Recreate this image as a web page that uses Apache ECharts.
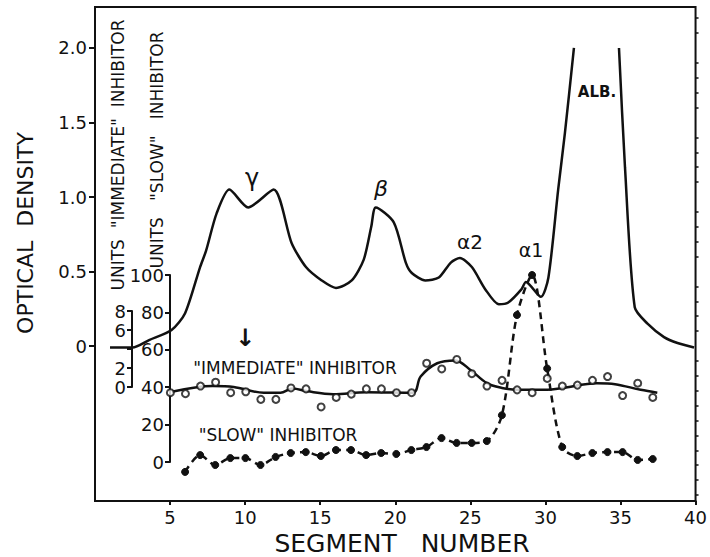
<!DOCTYPE html>
<html>
<head>
<meta charset="utf-8">
<script src="https://cdn.jsdelivr.net/npm/echarts@6/dist/echarts.min.js"></script>
<style>
  html, body { margin: 0; padding: 0; background: #fff; }
  #chart { width: 710px; height: 557px; }
</style>
</head>
<body>
<div id="chart"></div>
<script>
// optical density trace (segment, OD); '-' breaks the albumin peak off the top
const odCurve = [
  [1.0, -0.01], [2.5, -0.01], [3.6, 0.04], [5.1, 0.107], [6.0, 0.22], [7.0, 0.53], [7.4, 0.64],
  [8.1, 0.89], [8.95, 1.05], [10.2, 0.93], [11.9, 1.05], [13.1, 0.69], [14.05, 0.53],
  [15.1, 0.44], [16.05, 0.39], [17.1, 0.44], [17.9, 0.58], [18.4, 0.80], [18.7, 0.93],
  [19.9, 0.83], [20.7, 0.56], [21.1, 0.49], [22.0, 0.44], [22.9, 0.46], [23.7, 0.56],
  [24.3, 0.59], [25.1, 0.53], [26.0, 0.38], [26.9, 0.28], [27.5, 0.29], [28.4, 0.38],
  [28.7, 0.43], [29.7, 0.33], [30.2, 0.46], [30.85, 1.05], [31.3, 1.43], [31.9, 2.0],
  [33.4, '-'],
  [34.9, 2.0], [35.3, 1.2], [35.95, 0.26], [36.8, 0.15], [37.9, 0.06], [38.8, 0.02], [39.9, -0.01]
];

// "slow" inhibitor units (segment, units)
const slowSegments = [6, 7, 8, 9, 10, 11, 12, 13, 14, 15, 16, 17, 18, 19, 20, 21, 22, 23, 24, 25, 26, 27, 28, 29, 30, 31, 32, 33, 34, 35, 36, 37];
const slowUnits = [-5.3, 3.7, -1.6, 2.1, 2.1, -1.6, 2.7, 4.8, 5.3, 3.2, 6.4, 6.4, 3.7, 4.8, 4.3, 6.4, 8.0, 12.8, 10.2, 10.2, 11.2, 25, 78.6, 100, 50, 8.0, 3.2, 4.8, 5.3, 5.3, 1.1, 1.6];

// "immediate" inhibitor units, measured points (segment, units)
const immSegments = [5, 6, 7, 8, 9, 10, 11, 12, 13, 14, 15, 16, 17, 18, 19, 20, 21, 22, 23, 24, 25, 26, 27, 28, 29, 30, 31, 32, 33, 34, 35, 36, 37];
const immUnits = [-0.6, -0.7, 0.1, 0.5, -0.6, -0.5, -1.3, -1.3, -0.1, -0.2, -2.1, -1.1, -0.75, -0.2, -0.2, -0.6, -0.6, 2.5, 1.9, 2.9, 1.4, 0.1, 0.7, -0.3, -0.6, 0.9, 0.1, 0.2, 0.7, 1.1, -0.9, 0.4, -1.1];

// hand-drawn fitted curve through the immediate inhibitor points
const immCurve = [
  [5.1, -0.5], [7.8, 0.1], [9.2, 0.0], [11.2, -0.6], [12.3, -0.6], [13.1, -0.15], [14.1, -0.45],
  [15.8, -0.75], [18.0, -0.55], [21.1, -0.6], [21.6, 1.1], [22.7, 2.5], [23.9, 2.8], [24.9, 1.8],
  [26.0, 0.4], [27.0, -0.1], [28.0, -0.3], [30.0, -0.3], [31.0, -0.1], [33.3, 0.4], [34.5, 0.3],
  [36.2, -0.3], [37.3, -0.6]
];

const xTicks = [5, 10, 15, 20, 25, 30, 35, 40];
const odTicks = [0, 0.5, 1.0, 1.5, 2.0];
const odMinorTicks = [-1.0, -0.9, -0.8, -0.7, -0.6, -0.5, -0.4, -0.3, -0.2, -0.1, 0.1, 0.2, 0.3, 0.4, 0.6, 0.7, 0.8, 0.9, 1.1, 1.2, 1.3, 1.4, 1.6, 1.7, 1.8, 1.9, 2.1, 2.2];

const FONT = 'DejaVu Sans';
const INK = '#111';

const chart = echarts.init(document.getElementById('chart'), null, { renderer: 'svg' });

const zip = (xs, ys) => xs.map((x, i) => [x, ys[i]]);

chart.setOption({
  backgroundColor: '#fff',
  animation: false,
  grid: [
    { left: 95, right: 12, top: 7, bottom: 56, show: true, borderColor: INK, borderWidth: 2, backgroundColor: 'transparent' },
    { left: 170, right: 12, top: 275, bottom: 95 },
    { left: 132, right: 12, top: 311, bottom: 170 }
  ],
  xAxis: [
    {
      gridIndex: 0, type: 'value', min: 0, max: 40,
      axisLine: { onZero: false, lineStyle: { color: INK, width: 2 } },
      axisTick: { customValues: xTicks, length: 4, lineStyle: { color: INK, width: 2 } },
      axisLabel: { customValues: xTicks, color: INK, fontFamily: FONT, fontSize: 18, margin: 7 },
      splitLine: { show: false }
    },
    { gridIndex: 1, type: 'value', min: 5, max: 40, show: false, axisLine: { onZero: false } },
    { gridIndex: 2, type: 'value', min: (132 - 95) / 15.075, max: 40, show: false, axisLine: { onZero: false } }
  ],
  yAxis: [
    {
      gridIndex: 0, type: 'value', min: -1.04, max: 2.275,
      axisLine: { onZero: false, lineStyle: { color: INK, width: 2 } },
      axisTick: { customValues: odTicks, length: 6, lineStyle: { color: INK, width: 2 } },
      axisLabel: {
        customValues: odTicks, color: INK, fontFamily: FONT, fontSize: 18, margin: 8,
        formatter: v => v === 0 ? '0' : v.toFixed(1)
      },
      splitLine: { show: false }
    },
    {
      gridIndex: 0, type: 'value', min: -1.04, max: 2.275,
      axisLine: { show: false, onZero: false },
      axisTick: { customValues: odMinorTicks, length: 3, lineStyle: { color: INK, width: 1.5 } },
      axisLabel: { show: false },
      splitLine: { show: false }
    },
    {
      gridIndex: 1, type: 'value', min: 0, max: 100, interval: 20,
      axisLine: { show: true, onZero: false, lineStyle: { color: INK, width: 2 } },
      axisTick: { show: true, length: 5, lineStyle: { color: INK, width: 2 } },
      axisLabel: { color: INK, fontFamily: FONT, fontSize: 18, margin: 6 },
      splitLine: { show: false }
    },
    {
      gridIndex: 2, type: 'value', min: 0, max: 8, interval: 2,
      axisLine: { show: true, onZero: false, lineStyle: { color: INK, width: 2 } },
      axisTick: { show: true, length: 5, lineStyle: { color: INK, width: 2 } },
      axisLabel: { color: INK, fontFamily: FONT, fontSize: 18, margin: 6, formatter: v => v === 4 ? '' : String(v) },
      splitLine: { show: false }
    }
  ],
  series: [
    {
      name: 'optical density', type: 'line', xAxisIndex: 0, yAxisIndex: 0,
      data: odCurve, smooth: 0.25, showSymbol: false, connectNulls: false,
      lineStyle: { color: INK, width: 2.5 }, clip: false, z: 3
    },
    {
      name: 'slow inhibitor', type: 'line', xAxisIndex: 1, yAxisIndex: 2,
      data: zip(slowSegments, slowUnits), smooth: 0.3, clip: false,
      symbol: 'circle', symbolSize: 7,
      itemStyle: { color: INK, borderColor: INK },
      lineStyle: { color: INK, width: 2.5, type: [7, 5] }, z: 4
    },
    {
      name: 'immediate curve', type: 'line', xAxisIndex: 2, yAxisIndex: 3,
      data: immCurve, smooth: 0.35, showSymbol: false, clip: false,
      lineStyle: { color: INK, width: 2.5 }, z: 3
    },
    {
      name: 'immediate points', type: 'scatter', xAxisIndex: 2, yAxisIndex: 3,
      data: zip(immSegments, immUnits), clip: false,
      symbol: 'circle', symbolSize: 7,
      itemStyle: { color: '#fff', borderColor: INK, borderWidth: 2 }, z: 5
    }
  ],
  graphic: [
    { type: 'text', x: 25, y: 233, rotation: Math.PI / 2,
      style: { text: 'OPTICAL  DENSITY', font: '22px "DejaVu Sans"', fill: INK, align: 'center', verticalAlign: 'middle' } },
    { type: 'text', x: 118, y: 155, rotation: Math.PI / 2,
      style: { text: 'UNITS  "IMMEDIATE"  INHIBITOR', font: '17px "DejaVu Sans"', fill: INK, align: 'center', verticalAlign: 'middle' } },
    { type: 'text', x: 157, y: 150, rotation: Math.PI / 2,
      style: { text: 'UNITS   "SLOW"   INHIBITOR', font: '17px "DejaVu Sans"', fill: INK, align: 'center', verticalAlign: 'middle' } },
    { type: 'text', x: 402, y: 543,
      style: { text: 'SEGMENT   NUMBER', font: '25px "DejaVu Sans"', fill: INK, align: 'center', verticalAlign: 'middle' } },
    { type: 'text', x: 252, y: 178,
      style: { text: 'γ', font: '24px "DejaVu Sans"', fill: INK, align: 'center', verticalAlign: 'middle' } },
    { type: 'text', x: 381, y: 188,
      style: { text: 'β', font: 'italic 22px "DejaVu Sans"', fill: INK, align: 'center', verticalAlign: 'middle' } },
    { type: 'text', x: 470, y: 242,
      style: { text: 'α2', font: '20px "DejaVu Sans"', fill: INK, align: 'center', verticalAlign: 'middle' } },
    { type: 'text', x: 531, y: 250,
      style: { text: 'α1', font: '19px "DejaVu Sans"', fill: INK, align: 'center', verticalAlign: 'middle' } },
    { type: 'text', x: 597, y: 92,
      style: { text: 'ALB.', font: 'bold 15px "DejaVu Sans"', fill: INK, align: 'center', verticalAlign: 'middle' } },
    { type: 'text', x: 245, y: 338,
      style: { text: '↓', font: 'bold 24px "DejaVu Sans"', fill: INK, align: 'center', verticalAlign: 'middle' } },
    { type: 'text', x: 295, y: 368,
      style: { text: '"IMMEDIATE" INHIBITOR', font: '17px "DejaVu Sans"', fill: INK, align: 'center', verticalAlign: 'middle' } },
    { type: 'text', x: 278, y: 435,
      style: { text: '"SLOW" INHIBITOR', font: '17px "DejaVu Sans"', fill: INK, align: 'center', verticalAlign: 'middle' } }
  ]
});
</script>
</body>
</html>
